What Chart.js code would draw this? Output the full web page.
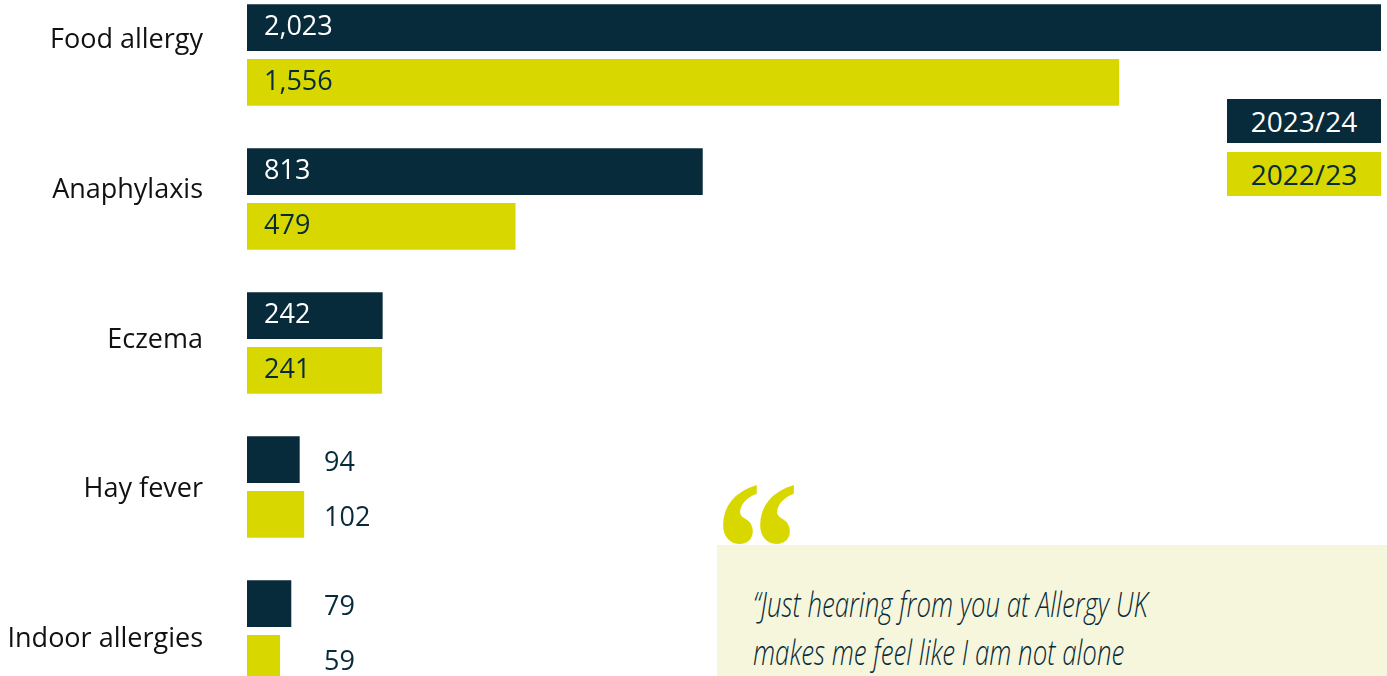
<!DOCTYPE html>
<html>
<head>
<meta charset="utf-8">
<script src="https://cdn.jsdelivr.net/npm/chart.js@4.4.1/dist/chart.umd.min.js"></script>
<style>
  html, body { margin: 0; padding: 0; width: 1387px; height: 676px; overflow: hidden; background: #ffffff; }
  #wrap { position: absolute; left: 0; top: -17px; width: 1387px; height: 720px; }
  .leg { position: absolute; left: 1227px; width: 154px; height: 44px; line-height: 44px; text-align: center;
         font-family: "Open Sans", sans-serif; font-size: 28px; }
  #leg1 { top: 99px; background: #072b3a; color: #ffffff; }
  #leg2 { top: 152px; background: #d8d800; color: #072b3a; }
  #quoteBox { position: absolute; left: 717px; top: 545px; width: 670px; height: 140px; background: #f5f6dc; }
  #quoteText { position: absolute; left: 753px; top: 580px; font-family: "Open Sans", sans-serif; font-style: italic;
               font-weight: 300; font-size: 34px; line-height: 48px; color: #072b3a; white-space: nowrap;
               transform: scaleX(0.76); transform-origin: 0 0; }
  #quoteMark { position: absolute; left: 715px; top: 451px; font-family: "Liberation Serif", serif; font-weight: bold;
               font-size: 196px; line-height: 196px; color: #d8d800; transform: scaleX(0.86); transform-origin: 0 0; }
</style>
</head>
<body>
<div id="quoteBox"></div>
<div id="quoteMark">&ldquo;</div>
<div id="quoteText">&ldquo;Just hearing from you at Allergy UK<br>makes me feel like I am not alone</div>
<div id="wrap"><canvas id="c"></canvas></div>
<div class="leg" id="leg1">2023/24</div>
<div class="leg" id="leg2">2022/23</div>
<script>
const categories = ["Food allergy", "Anaphylaxis", "Eczema", "Hay fever", "Indoor allergies"];
const values2023 = [2023, 813, 242, 94, 79];
const values2022 = [1556, 479, 241, 102, 59];
const seriesLabels = ["2023/24", "2022/23"];

const DARK = "#072b3a";
const YELLOW = "#d8d800";
const LABEL_MIN = -0.386;
const LABEL_MAX = 4.427;

const valueLabels = {
  id: "valueLabels",
  afterDatasetsDraw(chart) {
    const ctx = chart.ctx;
    ctx.save();
    ctx.font = '27px "Open Sans", sans-serif';
    ctx.textBaseline = "middle";
    ctx.textAlign = "left";
    chart.data.datasets.forEach((ds, di) => {
      const meta = chart.getDatasetMeta(di);
      meta.data.forEach((bar, i) => {
        const v = ds.data[i];
        const txt = v.toLocaleString("en-GB");
        const w = bar.x - bar.base;
        if (w > 100) {
          ctx.fillStyle = di === 0 ? "#ffffff" : DARK;
          ctx.fillText(txt, bar.base + 17, bar.y);
        } else {
          ctx.fillStyle = DARK;
          ctx.fillText(txt, bar.base + 77, bar.y + 4);
        }
      });
    });
    ctx.restore();
  }
};

new Chart(document.getElementById("c"), {
  type: "bar",
  data: {
    labels: categories,
    datasets: [
      { label: seriesLabels[0], data: values2023, backgroundColor: DARK, categoryPercentage: 0.76, barPercentage: 0.854 },
      { label: seriesLabels[1], data: values2022, backgroundColor: YELLOW, categoryPercentage: 0.76, barPercentage: 0.854 }
    ]
  },
  options: {
    indexAxis: "y",
    responsive: true,
    maintainAspectRatio: false,
    animation: false,
    layout: { padding: { left: 0, right: 6, top: 0, bottom: 0 } },
    plugins: { legend: { display: false }, tooltip: { enabled: false } },
    scales: {
      x: { display: false, min: 0, max: 2023 },
      y: { display: false },
      yLab: {
        type: "linear",
        position: "left",
        reverse: true,
        offset: false,
        bounds: "data",
        min: LABEL_MIN,
        max: LABEL_MAX,
        grid: { display: false, drawTicks: false, offset: false },
        border: { display: false },
        afterBuildTicks: (axis) => {
          axis.ticks = categories.map((c, i) => ({ value: i }));
          axis.min = LABEL_MIN;
          axis.max = LABEL_MAX;
        },
        afterFit: (axis) => { axis.width = 247; axis.paddingTop = 0; axis.paddingBottom = 0; },
        ticks: {
          padding: 44,
          includeBounds: false,
          color: "#111111",
          font: { family: '"Open Sans", sans-serif', size: 27 },
          callback: (v) => categories[v] !== undefined ? categories[v] : ""
        }
      }
    }
  },
  plugins: [valueLabels]
});
</script>
</body>
</html>
